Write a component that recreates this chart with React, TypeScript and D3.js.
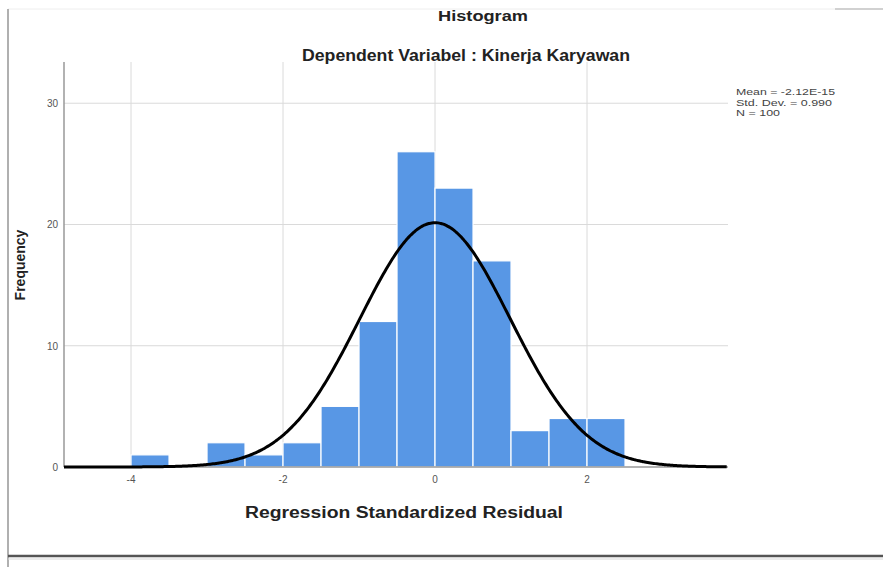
import React from 'react';
import * as d3 from 'd3';

const binStarts = [-4, -3.5, -3, -2.5, -2, -1.5, -1, -0.5, 0, 0.5, 1, 1.5, 2];
const binCounts = [1, 0, 2, 1, 2, 5, 12, 26, 23, 17, 3, 4, 4];
const binWidth = 0.5;
const xTicks = [-4, -2, 0, 2];
const yTicks = [0, 10, 20, 30];
const statsLines = ['Mean = -2.12E-15', 'Std. Dev. = 0.990', 'N = 100'];
const statsWidths = [99, 96, 44];
const mean = -2.12e-15;
const sd = 0.99;
const n = 100;

const W = 883;
const H = 567;
const plot = { left: 64, right: 728, top: 62, bottom: 467 };
const font = '"Liberation Sans", Arial, sans-serif';

export default function App() {
  const x = d3.scaleLinear().domain([-4.882, 3.855]).range([plot.left, plot.right]);
  const y = d3.scaleLinear().domain([0, 33.4]).range([plot.bottom, plot.top]);

  // normal curve scaled to the histogram
  const xs = d3.range(x.domain()[0], x.domain()[1] + 0.001, 0.02);
  const curve = xs.map((v) => {
    const z = (v - mean) / sd;
    return [v, (n * binWidth * Math.exp(-0.5 * z * z)) / (sd * Math.sqrt(2 * Math.PI))] as [number, number];
  });
  const line = d3
    .line<[number, number]>()
    .x((d) => x(d[0]))
    .y((d) => y(d[1]))
    .curve(d3.curveBasis);

  return (
    <svg
      width={W}
      height={H}
      style={{ position: 'absolute', left: 0, top: 0, background: '#fff' }}
    >
      {/* frame */}
      <line x1={8} y1={9} x2={W} y2={9} stroke="#eeeeee" strokeWidth={1} />
      <line x1={835} y1={9} x2={W} y2={9} stroke="#c4c4c4" strokeWidth={1.5} />
      <line x1={8} y1={9} x2={8} y2={H} stroke="#b0b0b0" strokeWidth={2} />
      <line x1={8} y1={556} x2={W} y2={556} stroke="#555" strokeWidth={2.5} />
      <line x1={8} y1={559} x2={W} y2={559} stroke="#d8d8d8" strokeWidth={1} />

      {/* titles */}
      <text x={483} y={21} textAnchor="middle" fontFamily={font} fontWeight="bold" fontSize={15}
        fill="#222" textLength={90} lengthAdjust="spacingAndGlyphs">Histogram</text>
      <text x={466} y={61} textAnchor="middle" fontFamily={font} fontWeight="bold" fontSize={16}
        fill="#222" textLength={328} lengthAdjust="spacingAndGlyphs">Dependent Variabel : Kinerja Karyawan</text>

      {/* grid */}
      {yTicks.filter((t) => t > 0).map((t) => (
        <line key={'gy' + t} x1={plot.left} x2={plot.right} y1={y(t)} y2={y(t)} stroke="#dadada" strokeWidth={1} />
      ))}
      {xTicks.map((t) => (
        <line key={'gx' + t} x1={x(t)} x2={x(t)} y1={plot.top} y2={plot.bottom} stroke="#dadada" strokeWidth={1} />
      ))}

      {/* bars */}
      {binStarts.map((b, i) =>
        binCounts[i] > 0 ? (
          <rect
            key={'b' + i}
            x={x(b)}
            y={y(binCounts[i])}
            width={x(b + binWidth) - x(b)}
            height={y(0) - y(binCounts[i])}
            fill="#5897e5"
            stroke="#ffffff"
            strokeWidth={1.2}
          />
        ) : null
      )}

      {/* axes */}
      <line x1={plot.left} x2={plot.left} y1={plot.top} y2={plot.bottom} stroke="#999" strokeWidth={1.5} />
      <line x1={plot.left} x2={plot.right} y1={plot.bottom} y2={plot.bottom} stroke="#999" strokeWidth={1.5} />

      {/* normal curve */}
      <path d={line(curve) || ''} fill="none" stroke="#000" strokeWidth={3} />

      {/* tick labels */}
      {yTicks.map((t) => (
        <text key={'ty' + t} x={58} y={y(t) + 4} textAnchor="end" fontFamily={font} fontSize={10} fill="#555">{t}</text>
      ))}
      {xTicks.map((t) => (
        <text key={'tx' + t} x={x(t)} y={483} textAnchor="middle" fontFamily={font} fontSize={10} fill="#555">{t}</text>
      ))}

      {/* axis titles */}
      <text x={404} y={518} textAnchor="middle" fontFamily={font} fontWeight="bold" fontSize={16}
        fill="#222" textLength={318} lengthAdjust="spacingAndGlyphs">Regression Standardized Residual</text>
      <text transform="translate(25,265) rotate(-90)" textAnchor="middle" fontFamily={font} fontWeight="bold"
        fontSize={14} fill="#222">Frequency</text>

      {/* stats legend */}
      {statsLines.map((s, i) => (
        <text key={'s' + i} x={736} y={95 + i * 10.5} fontFamily={font} fontSize={9.5} fill="#444"
          textLength={statsWidths[i]} lengthAdjust="spacingAndGlyphs">{s}</text>
      ))}
    </svg>
  );
}
